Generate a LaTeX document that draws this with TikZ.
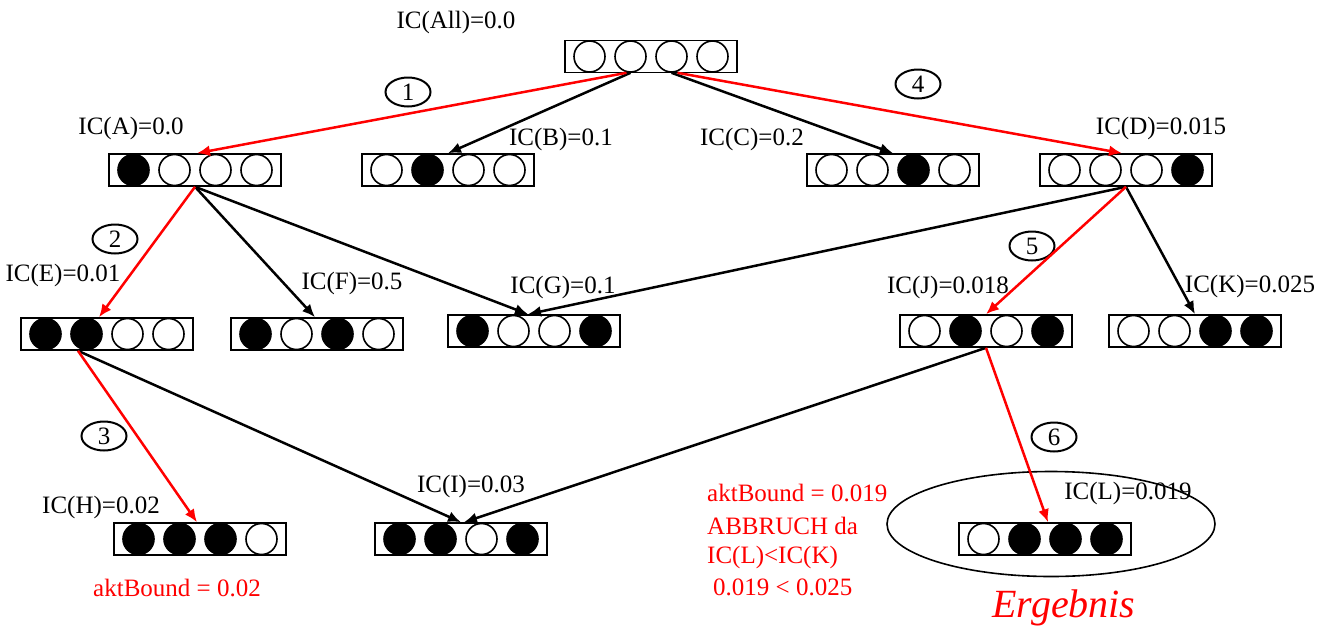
\documentclass[tikz,border=0pt]{standalone}
\usepackage{fontspec}
\setmainfont{Liberation Serif}
\usetikzlibrary{arrows.meta,shapes.geometric,calc}
\definecolor{myred}{RGB}{255,0,0}
\tikzset{
  bitbox/.style={draw, line width=1.6pt, minimum width=172pt, minimum height=32pt, inner sep=0pt},
  bit/.style={circle, draw, line width=1.6pt, minimum size=31pt, inner sep=0pt},
  lbl/.style={font=\fontsize{25}{30}\selectfont, inner sep=0pt},
  rlbl/.style={lbl, text=myred, anchor=west},
  num/.style={ellipse, draw, line width=2pt, minimum width=45pt, minimum height=29pt, inner sep=0pt, font=\fontsize{25}{30}\selectfont},
  edge/.style={line width=2.5pt, -{Latex[length=13pt,width=11pt]}},
  redge/.style={edge, draw=myred},
}
\newcommand\bitrow[4]{%
  \node[bitbox] (#1) at (#2,#3) {};
  \foreach \f [count=\i] in {#4} {
    \node[bit, fill=\f] (#1-\i) at ({#2-61.5+41*(\i-1)},#3) {};
  }
}
\begin{document}
\begin{tikzpicture}[x=1pt,y=-1pt]
\useasboundingbox (0,0) rectangle (1330,635);
% result ellipse
\node[ellipse, draw, line width=1.6pt, minimum width=328pt, minimum height=105pt] (ell) at (1051,524) {};
% boxes
\bitrow{All}{651}{56.5}{white,white,white,white}
\bitrow{A}{195}{170}{black,white,white,white}
\bitrow{B}{448}{170}{white,black,white,white}
\bitrow{C}{893}{170}{white,white,black,white}
\bitrow{D}{1126}{170}{white,white,white,black}
\bitrow{E}{107}{334}{black,black,white,white}
\bitrow{F}{317}{334}{black,white,black,white}
\bitrow{G}{534}{331}{black,white,white,black}
\bitrow{J}{986}{331}{white,black,white,black}
\bitrow{K}{1195}{331}{white,white,black,black}
\bitrow{H}{200}{539}{black,black,black,white}
\bitrow{I}{461}{539}{black,black,white,black}
\bitrow{L}{1045}{539}{white,black,black,black}
% labels
\node[lbl] (lAll) at (456,22) {IC(All)=0.0};
\node[lbl] (lA) at (131,128) {IC(A)=0.0};
\node[lbl] (lB) at (561,139) {IC(B)=0.1};
\node[lbl] (lC) at (752,139) {IC(C)=0.2};
\node[lbl] (lD) at (1161,128) {IC(D)=0.015};
\node[lbl] (lE) at (63,275) {IC(E)=0.01};
\node[lbl] (lF) at (352,283) {IC(F)=0.5};
\node[lbl] (lG) at (563,287) {IC(G)=0.1};
\node[lbl] (lJ) at (948,287) {IC(J)=0.018};
\node[lbl] (lK) at (1250,286) {IC(K)=0.025};
\node[lbl] (lH) at (101,507) {IC(H)=0.02};
\node[lbl] (lI) at (471,486) {IC(I)=0.03};
\node[lbl] (lL) at (1128,493) {IC(L)=0.019};
% step numbers
\node[num] (n1) at (408,92) {1};
\node[num] (n2) at (115,239) {2};
\node[num] (n3) at (104,436) {3};
\node[num] (n4) at (918,84) {4};
\node[num] (n5) at (1032,246) {5};
\node[num] (n6) at (1054,437) {6};
% red texts
\node[lbl, text=myred] (b1) at (177,588) {aktBound = 0.02};
\node[rlbl] (r1) at (707,493) {aktBound = 0.019};
\node[rlbl] (r2) at (707,526) {ABBRUCH da};
\node[rlbl] (r3) at (707,557) {IC(L)<IC(K)};
\node[rlbl] (r4) at (713,587) {0.019 < 0.025};
\node[lbl, text=myred, font=\fontsize{40}{46}\selectfont\itshape] (erg) at (1064,608) {Ergebnis};
% edges
\draw[edge] (All-2.south) -- (B.north);
\draw[edge] (All-3.south) -- (C.north);
\draw[redge] ($(All-2.south)+(-4,0)$) -- ($(A.north)+(2,0)$);
\draw[redge] ($(All-3.south)+(6,0)$) -- ($(D.north)+(-4,0)$);
\draw[edge] (A.south) -- ($(F.north)+(-2,0)$);
\draw[edge] (A.south) -- ($(G.north)+(-6,0)$);
\draw[edge] (D.south) -- ($(G.north)+(-6,0)$);
\draw[edge] (D.south) -- (K.north);
\draw[redge] (D.south) -- (J.north);
\draw[redge] (A.south) -- ($(E.north)+(-8,0)$);
\draw[edge] ($(E.south)+(-29,0)$) -- (I.north);
\draw[redge] ($(E.south)+(-29,0)$) -- ($(H.north)+(-3,0)$);
\draw[edge] (J.south) -- ($(I.north)+(3,0)$);
\draw[redge] (J.south) -- ($(L.north)+(3,0)$);
\end{tikzpicture}
\end{document}
